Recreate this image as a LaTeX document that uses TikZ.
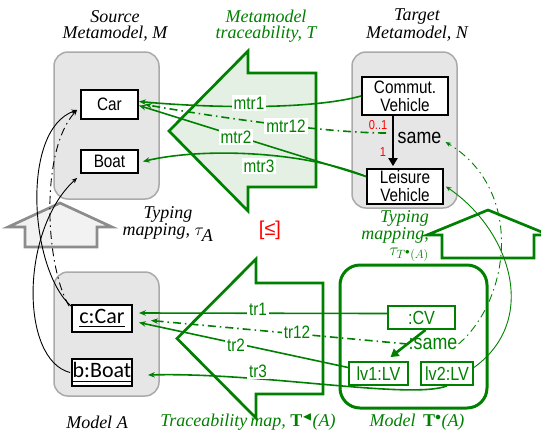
\documentclass[tikz,border=0pt]{standalone}
\usepackage{amssymb}
\usepackage{fontspec}
\setmainfont{Liberation Serif}
\newfontfamily\narrowsans{Liberation Sans}[FakeStretch=0.85]
\newfontfamily\plainsans{Liberation Sans}
\newfontfamily\calibri{Carlito}
\usetikzlibrary{arrows.meta}
\definecolor{dgreen}{RGB}{0,128,0}
\definecolor{lgreen}{RGB}{228,240,228}
\definecolor{boxgray}{RGB}{230,230,230}
\definecolor{edgegray}{RGB}{170,170,170}
\definecolor{housegray}{RGB}{242,242,242}
\definecolor{houseedge}{RGB}{140,140,140}
\tikzset{
  container/.style={draw=edgegray, fill=boxgray, line width=1.5pt, rounded corners=14pt},
  cls/.style={draw, fill=white, line width=1.8pt, inner sep=0pt, align=center,
    font=\narrowsans\fontsize{18}{18}\selectfont},
  obj/.style={draw, fill=white, line width=1.8pt, inner sep=0pt,
    font=\calibri\fontsize{22}{22}\selectfont},
  gobj/.style={draw=dgreen, fill=white, text=dgreen, line width=1.8pt, inner sep=0pt,
    font=\narrowsans\fontsize{19}{19}\selectfont},
  lbl/.style={fill=white, text=dgreen, inner sep=2pt,
    font=\narrowsans\fontsize{18}{18}\selectfont},
  gconn/.style={draw=dgreen, line width=1.6pt, -{Stealth[length=7pt,width=5.5pt]}},
  dashdot/.style={dash pattern=on 8pt off 4pt on 1.5pt off 4pt},
  typarc/.style={line width=0.9pt, -{Stealth[length=5.5pt,width=4.5pt]}},
  title/.style={font=\itshape\fontsize{18}{15.5}\selectfont, align=center, inner sep=1pt},
  bigarrow/.style={draw=dgreen, line width=2.7pt, line join=miter},
}
\begin{document}
\begin{tikzpicture}[x=1pt,y=-1pt]
\useasboundingbox (0,0) rectangle (541,432);
\clip (0,0) rectangle (541,432);

% containers
\draw[container] (54,52) rectangle (159,199);
\draw[container] (352,52) rectangle (457,208);
\draw[container] (54,272) rectangle (159,396);
\draw[draw=dgreen, line width=3pt, rounded corners=20pt] (340,265) rectangle (487,408);

% traceability arrows
\draw[bigarrow, fill=lgreen] (169,131) -- (248,51) -- (248,73) -- (316,73) -- (316,187)
  -- (248,187) -- (248,211) -- cycle;
\draw[bigarrow, fill=white] (177,338.5) -- (256,259) -- (256,283) -- (323,283) -- (323,394)
  -- (256,394) -- (256,418) -- cycle;

% typing arrows
\draw[draw=houseedge, fill=housegray, line width=2.7pt, line join=miter]
  (60,203) -- (112,227) -- (97,227) -- (97,247) -- (25,247) -- (25,227) -- (8,227) -- cycle;
\draw[draw=dgreen, fill=white, line width=2.7pt, line join=miter]
  (488,210) -- (549,235) -- (534,235) -- (534,258) -- (442,258) -- (442,235) -- (427,235) -- cycle;

% titles
\node[title] (srcT) at (115,26) {Source\\Metamodel, M};
\node[title, text=dgreen] (trT) at (266,26) {Metamodel\\traceability, T};
\node[title] (tgtT) at (417,25) {Target\\Metamodel, N};
\node[title] (typA) at (168,224) {Typing\\mapping, $\tau_{\textit{A}}$};
\node[title, text=dgreen, align=right, anchor=east] (typT) at (430,236)
  {Typing\\mapping,\\$\tau_{T^{\bullet}(A)}$};
\node[title] (modA) at (97,422) {Model A};
\node[title, text=dgreen] (tmap) at (248,422) {Traceability\,map, $\mathbf{T}^{\blacktriangleleft}$(A)};
\node[title, text=dgreen] (modT) at (417,422) {Model \,$\mathbf{T}^{\bullet}$(A)};
\node[text=red, font=\plainsans\fontsize{20}{20}\selectfont] (leq) at (270,230) {[≤]};

% metamodel classes
\node[cls, minimum width=57pt, minimum height=29pt] (car) at (109.5,104.5) {Car};
\node[cls, minimum width=57pt, minimum height=23pt] (boat) at (109.5,161.5) {Boat};
\node[cls, minimum width=86pt, minimum height=38pt] (cveh) at (405,96) {Commut.\\Vehicle};
\node[cls, minimum width=76pt, minimum height=35pt] (lveh) at (405,186.5) {Leisure\\Vehicle};

% model objects
\node[obj, minimum width=60pt, minimum height=27pt] (ccar) at (102,318.5) {\underline{c:Car}};
\node[obj, minimum width=60pt, minimum height=27pt] (bboat) at (102,372.5) {\underline{b:Boat}};
\node[gobj, minimum width=67pt, minimum height=23pt] (ocv) at (421.5,317.5) {:CV};
\node[gobj, minimum width=59pt, minimum height=23pt] (olv1) at (378.5,373.5) {lv1:LV};
\node[gobj, minimum width=52pt, minimum height=23pt] (olv2) at (447,373.5) {lv2:LV};

% association "same" in the target metamodel
\draw[line width=2.4pt, -{Triangle[length=8pt,width=9pt]}, shorten >=2pt]
  ([xshift=-12pt]cveh.south) -- ([xshift=-12pt]lveh.north);
\coordinate (samept) at (386,133);
\node[font=\narrowsans\fontsize{21}{21}\selectfont, inner sep=1pt] (samelbl) at (419.5,138) {same};
\node[text=red, font=\narrowsans\fontsize{13}{13}\selectfont, inner sep=0pt] (mult1) at (378,125.5) {0..1};
\node[text=red, font=\narrowsans\fontsize{13}{13}\selectfont, inner sep=0pt] (mult2) at (383,152) {1};

% link in the target model
\draw[draw=dgreen, line width=2.6pt, -{Triangle[length=8pt,width=9pt]}]
  ([xshift=4pt]ocv.south) -- ([xshift=12pt,yshift=4pt]olv1.north);
\node[text=dgreen, font=\narrowsans\fontsize{21}{21}\selectfont, inner sep=1pt] (osame) at (433,344) {:same};

% metamodel traceability links
\draw[gconn] (cveh.west) .. controls (310,110) and (210,108) .. ([yshift=3pt]car.east)
  node[lbl, at={(249,103)}] {mtr1};
\draw[gconn, dashdot] (samept) .. controls (330,133) and (220,118) .. ([xshift=6pt]car.east)
  node[lbl, at={(286,126)}] {mtr12};
\draw[gconn] ([yshift=10pt]lveh.west) -- ([yshift=-1pt]car.east)
  node[lbl, at={(236,137)}] {mtr2};
\draw[gconn] ([yshift=10pt]lveh.west) .. controls (300,150) and (200,148) .. ([xshift=4pt]boat.east)
  node[lbl, at={(259,166)}] {mtr3};

% model traceability links
\draw[gconn] ([yshift=4pt]ocv.west) -- ([xshift=6pt,yshift=5.5pt]ccar.east)
  node[lbl, at={(258,309)}] {tr1};
\draw[gconn, dashdot] (osame.west) -- ([xshift=18pt,yshift=-2pt]ccar.east)
  node[lbl, at={(297,332)}] {tr12};
\draw[gconn] ([yshift=6pt]olv1.west) -- ([xshift=6pt,yshift=-4pt]ccar.east)
  node[lbl, at={(236,345)}] {tr2};
\draw[gconn] (olv2.south) .. controls (410,400) and (260,372) .. ([xshift=15pt,yshift=-2.5pt]bboat.east)
  node[lbl, at={(258,371)}] {tr3};

% typing of model A
\draw[typarc] ([yshift=-2pt]ccar.north west) .. controls (30,270) and (20,130) .. ([xshift=-3pt,yshift=-5.5pt]car.west);
\draw[typarc, dashdot] ([xshift=-2pt,yshift=-2pt]ccar.north west) .. controls (45,265) and (40,150) .. ([xshift=-3pt,yshift=-5.5pt]car.west);
\draw[typarc] ([xshift=-1pt]bboat.west) .. controls (20,360) and (20,230) .. ([xshift=-3pt,yshift=-4pt]boat.south west);

% typing of the traceability target model
\draw[typarc, draw=dgreen] ([yshift=6pt]olv2.east) .. controls (540,320) and (510,230) .. ([xshift=2pt]lveh.east);
\draw[typarc, draw=dgreen, dashdot] (osame.east) .. controls (510,300) and (525,190) .. ([xshift=3pt,yshift=-4pt]samelbl.east);
\end{tikzpicture}
\end{document}
